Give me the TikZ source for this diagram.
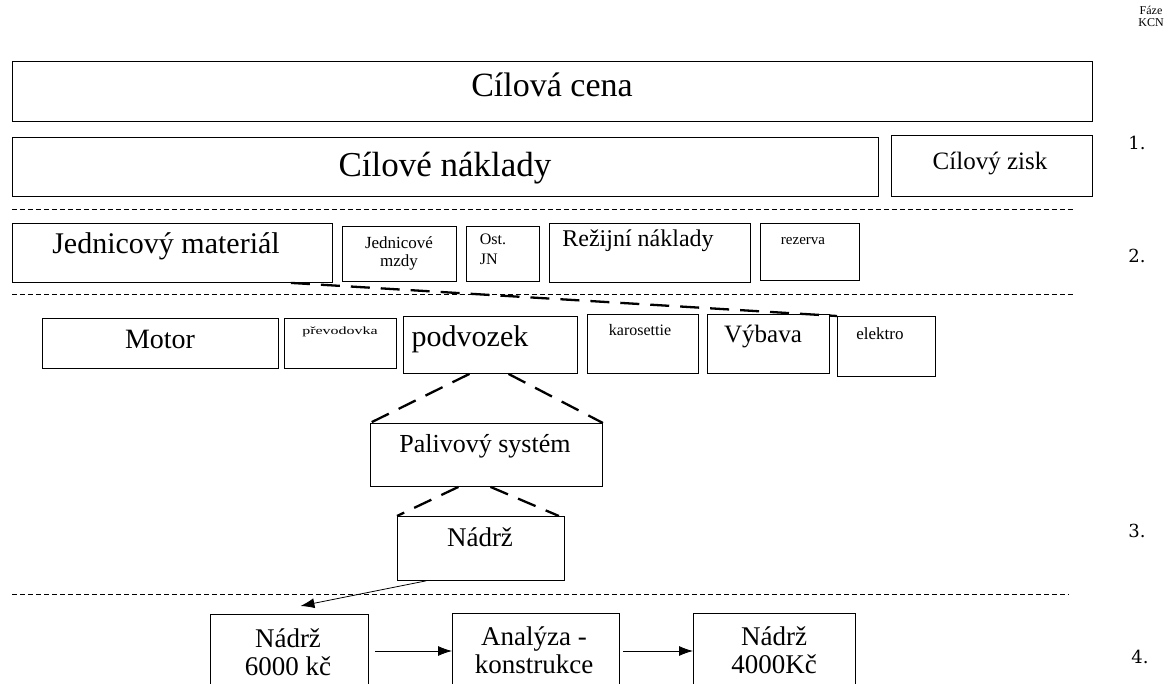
\documentclass[tikz,border=0pt]{standalone}
\usepackage{fontspec}
\setmainfont{Liberation Serif}
\newfontfamily\numfont{DejaVu Serif}
\usetikzlibrary{arrows.meta}
\newcommand\fs[1]{\fontsize{#1}{#1}\selectfont}
\tikzset{
  box/.style={draw, line width=0.9pt, inner sep=0pt, anchor=north west},
  sepline/.style={line width=0.6pt, dash pattern=on 5pt off 3pt},
  bigdash/.style={line width=2.3pt, dash pattern=on 19pt off 11pt},
  txt/.style={inner sep=0pt, anchor=base, align=center},
  arr/.style={-{Latex[length=14pt,width=10pt]}, line width=0.8pt}
}
\begin{document}
\begin{tikzpicture}[x=1pt,y=-1pt]
\useasboundingbox (0,0) rectangle (1171,684);
\clip (0,0) rectangle (1171,684);
% phase labels
\node[txt, font=\fs{12}] (faze) at (1151,27) {Fáze\\[0pt]KCN};
\node[txt, font=\numfont\fs{18}] (p1) at (1137,150) {1.};
\node[txt, font=\numfont\fs{18}] (p2) at (1137,263) {2.};
\node[txt, font=\numfont\fs{18}] (p3) at (1137,537) {3.};
\node[txt, font=\numfont\fs{18}] (p4) at (1140,663) {4.};
% level 1
\node[box, minimum width=1080pt, minimum height=60pt] (cena) at (12,61) {};
\node[txt, font=\fs{34}] (cenat) at (552,97) {Cílová cena};
\node[box, minimum width=866pt, minimum height=59pt] (naklady) at (12,137) {};
\node[txt, font=\fs{35}] (nakladyt) at (445,177) {Cílové náklady};
\node[box, minimum width=201pt, minimum height=61pt] (zisk) at (891,135) {};
\node[txt, font=\fs{25}] (ziskt) at (990,170) {Cílový zisk};
\draw[sepline] (12,209) -- (1073,209);
% level 2
\node[box, minimum width=320pt, minimum height=59pt] (mat) at (12,223) {};
\node[txt, font=\fs{30}] (matt) at (166,254) {Jednicový materiál};
\node[box, minimum width=114pt, minimum height=55pt] (mzdy) at (342,226) {};
\node[txt, font=\fs{17}] (mzdyt) at (399,267) {Jednicové\\[1pt]mzdy};
\node[box, minimum width=73pt, minimum height=55pt] (ost) at (466,226) {};
\node[txt, font=\fs{16}, align=left] (ostt) at (493,265) {Ost.\\[4pt]JN};
\node[box, minimum width=201pt, minimum height=59pt] (rezijni) at (549,223) {};
\node[txt, font=\fs{24}] (rezijnit) at (638,247) {Režijní náklady};
\node[box, minimum width=99pt, minimum height=57pt] (rezerva) at (760,223) {};
\node[txt, font=\fs{15}] (rezervat) at (803,245) {rezerva};
\draw[sepline] (12,294) -- (1073,294);
% level 3
\node[box, minimum width=236pt, minimum height=50pt] (motor) at (42,318) {};
\node[txt, font=\fs{28}] (motort) at (160,349) {Motor};
\node[box, minimum width=112pt, minimum height=50pt] (prevod) at (284,318) {};
\node[txt, font=\fs{11}] (prevodt) at (340,335) {\scalebox{1.45}[1]{převodovka}};
\node[box, minimum width=174pt, minimum height=57pt] (podvozek) at (403,316) {};
\node[txt, font=\fs{30}] (podvozekt) at (470,347) {podvozek};
\node[box, minimum width=111pt, minimum height=59pt] (karos) at (587,314) {};
\node[txt, font=\fs{16}] (karost) at (640,336) {karosettie};
\node[box, minimum width=122pt, minimum height=59pt] (vybava) at (707,314) {};
\node[txt, font=\fs{25}] (vybavat) at (763,343) {Výbava};
\node[box, minimum width=98pt, minimum height=60pt] (elektro) at (837,316) {};
\node[txt, font=\fs{17}] (elektrot) at (880,340) {elektro};
\draw[bigdash] ([xshift=-42pt]mat.south east) -- (elektro.north west);
% palivovy system
\node[box, minimum width=232pt, minimum height=63pt] (paliv) at (370,423) {};
\node[txt, font=\fs{26}] (palivt) at (485,453) {Palivový systém};
\draw[bigdash] ([xshift=-21pt]podvozek.south) -- (paliv.north west);
\draw[bigdash] ([xshift=18pt]podvozek.south) -- (paliv.north east);
% nadrz
\node[box, minimum width=167pt, minimum height=64pt] (nadrz) at (397,516) {};
\node[txt, font=\fs{27}] (nadrzt) at (480,547) {Nádrž};
\draw[bigdash] ([xshift=-28pt]paliv.south) -- (nadrz.north west);
\draw[bigdash] ([xshift=4pt]paliv.south) -- ([xshift=-6pt]nadrz.north east);
\draw[sepline] (12,594) -- (1069,594);
% level 4
\node[box, minimum width=158pt, minimum height=90pt] (n6000) at (210,614) {};
\node[txt, font=\fs{27}] (n6000t) at (288,675) {Nádrž\\[1pt]6000 kč};
\node[box, minimum width=167pt, minimum height=90pt] (analyza) at (452,613) {};
\node[txt, font=\fs{27}] (analyzat) at (534,673) {Analýza -\\[1pt]konstrukce};
\node[box, minimum width=162pt, minimum height=90pt] (n4000) at (693,613) {};
\node[txt, font=\fs{27}] (n4000t) at (774,673) {Nádrž\\[1pt]4000Kč};
\coordinate (tipA) at ([xshift=11pt,yshift=8pt]n6000.north);
\draw[arr] ([xshift=-55pt]nadrz.south) -- (tipA);
\draw[arr] ([xshift=6pt]n6000.east |- 0,651) -- (analyza.west |- 0,651);
\draw[arr] ([xshift=3pt]analyza.east |- 0,651) -- (n4000.west |- 0,651);
\end{tikzpicture}
\end{document}
